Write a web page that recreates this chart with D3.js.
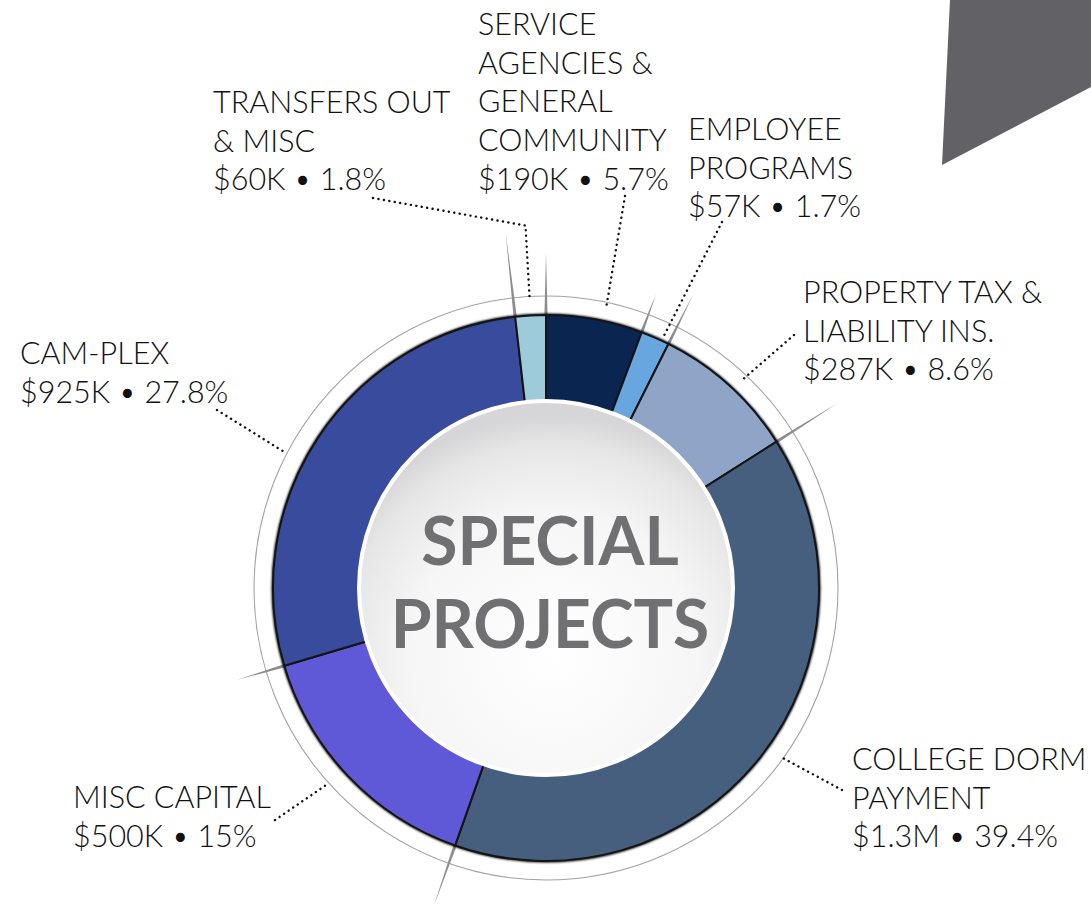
<!DOCTYPE html>
<html>
<head>
<meta charset="utf-8">
<script src="https://cdn.jsdelivr.net/npm/d3@7"></script>
<style>
  html, body { margin: 0; padding: 0; background: #fff; }
  svg { display: block; }
  .lbl { font-family: Lato, "Noto Sans", sans-serif; font-weight: 300; font-size: 30.5px; fill: #111; }
  .title { font-family: Lato, "Noto Sans", sans-serif; font-weight: 700; font-size: 66px; fill: #707072; }
</style>
</head>
<body>
<div id="chart"></div>
<script>
// slices, clockwise from 12 o'clock
var categories = ["SERVICE AGENCIES & GENERAL COMMUNITY", "EMPLOYEE PROGRAMS", "PROPERTY TAX & LIABILITY INS.",
                  "COLLEGE DORM PAYMENT", "MISC CAPITAL", "CAM-PLEX", "TRANSFERS OUT & MISC"];
var nameLines = [["SERVICE", "AGENCIES &", "GENERAL", "COMMUNITY"], ["EMPLOYEE", "PROGRAMS"],
                 ["PROPERTY TAX &", "LIABILITY INS."], ["COLLEGE DORM", "PAYMENT"], ["MISC CAPITAL"],
                 ["CAM-PLEX"], ["TRANSFERS OUT", "& MISC"]];
var amounts = ["$190K", "$57K", "$287K", "$1.3M", "$500K", "$925K", "$60K"];
var shares = [5.7, 1.7, 8.6, 39.4, 15, 27.8, 1.8];
var title = ["SPECIAL", "PROJECTS"];

var colors = ["#0a2550", "#68a6df", "#8ea5c8", "#475f7e", "#5f59d7", "#394b9c", "#9dcbd9"];

// layout
var W = 1091, H = 909;
var cx = 546, cy = 588;
var innerR = 186, outerR = 273, ringR = 292;
var lineH = 38.7;
var labelPos = [[478, 35], [688, 140], [803, 303], [852, 770], [73, 808], [20, 364], [213, 113]];
var leaderFrom = [[625, 196], [722, 222], [794, 335], [842, 790], [275, 820], [217, 410], [373, 198]];
var leaderFrac = [0.59, 0.74, 0.54, 0.48, 0.53, 0.44, 0.5];
var leaderR = [287, 277, 288, 291, 292, 296, 288];
var needleR = [335, 314, 328, 345, 337, 322, 358];
var corner = [[950, 0], [1091, 0], [1091, 87], [942, 165]];

var svg = d3.select("#chart").append("svg")
    .attr("width", W)
    .attr("height", H);

var defs = svg.append("defs");
var grad = defs.append("radialGradient")
    .attr("id", "disc")
    .attr("cx", "52%").attr("cy", "68%").attr("r", "64%");
grad.append("stop").attr("offset", "0%").attr("stop-color", "#ffffff");
grad.append("stop").attr("offset", "60%").attr("stop-color", "#f6f6f6");
grad.append("stop").attr("offset", "88%").attr("stop-color", "#e6e6e6");
grad.append("stop").attr("offset", "100%").attr("stop-color", "#d6d6d8");

var shadow = defs.append("filter").attr("id", "soft").attr("x", "-10%").attr("y", "-10%").attr("width", "120%").attr("height", "120%");
shadow.append("feGaussianBlur").attr("stdDeviation", 1.2);

// grey corner shape
svg.append("path")
    .attr("d", d3.line()(corner) + "Z")
    .attr("fill", "#626166");

var g = svg.append("g").attr("transform", "translate(" + cx + "," + cy + ")");

// thin outer ring
g.append("circle")
    .attr("r", ringR)
    .attr("fill", "none")
    .attr("stroke", "#a2a2a2")
    .attr("stroke-width", 1.1);

var pie = d3.pie().sort(null).value(function(d) { return d; })
    .startAngle(0).endAngle(2 * Math.PI);
var arcs = pie(shares);

var arc = d3.arc().innerRadius(innerR).outerRadius(outerR);

// tapered grey needles at slice boundaries
g.selectAll("path.needle")
    .data(arcs)
    .enter()
    .append("path")
    .attr("class", "needle")
    .attr("fill", "#8d8d8d")
    .attr("d", function(d, i) {
        var a = d.startAngle, w = 1.7 / outerR;
        var b1 = d3.pointRadial(a - w, outerR - 4),
            b2 = d3.pointRadial(a + w, outerR - 4),
            t = d3.pointRadial(a, needleR[i]);
        return "M" + b1 + "L" + t + "L" + b2 + "Z";
    });

// shadowed outline under the ring
g.append("circle")
    .attr("r", outerR)
    .attr("fill", "none")
    .attr("stroke", "#000")
    .attr("stroke-width", 3)
    .attr("filter", "url(#soft)");

g.selectAll("path.slice")
    .data(arcs)
    .enter()
    .append("path")
    .attr("class", "slice")
    .attr("d", arc)
    .attr("fill", function(d, i) { return colors[i]; })
    .attr("stroke", "#141414")
    .attr("stroke-width", 2)
    .attr("stroke-linejoin", "round");

// center disc
g.append("circle")
    .attr("r", innerR + 1)
    .attr("fill", "url(#disc)")
    .attr("stroke", "#ffffff")
    .attr("stroke-width", 4);

g.selectAll("text.title")
    .data(title)
    .enter()
    .append("text")
    .attr("class", "title")
    .attr("x", 4)
    .attr("y", function(d, i) { return -23 + i * 83; })
    .attr("text-anchor", "middle")
    .text(function(d) { return d; });

// dotted leaders
var leader = d3.line();
svg.selectAll("path.leader")
    .data(arcs)
    .enter()
    .append("path")
    .attr("class", "leader")
    .attr("fill", "none")
    .attr("stroke", "#111")
    .attr("stroke-width", 2.4)
    .attr("stroke-linecap", "round")
    .attr("stroke-dasharray", "0.1 5.4")
    .attr("d", function(d, i) {
        var a = d.startAngle + leaderFrac[i] * (d.endAngle - d.startAngle);
        var end = d3.pointRadial(a, leaderR[i]);
        var pts = [leaderFrom[i]];
        if (i === 6) {
            var elbow = d3.pointRadial(a, 363);
            pts.push([elbow[0] + cx, elbow[1] + cy]);
        }
        pts.push([end[0] + cx, end[1] + cy]);
        return leader(pts);
    });

// labels
var labels = svg.selectAll("text.lbl")
    .data(arcs)
    .enter()
    .append("text")
    .attr("class", "lbl")
    .attr("x", function(d, i) { return labelPos[i][0]; })
    .attr("y", function(d, i) { return labelPos[i][1]; });

labels.each(function(d, i) {
    var lines = nameLines[i].concat([amounts[i] + " \u2022 " + shares[i] + "%"]);
    d3.select(this).selectAll("tspan")
        .data(lines)
        .enter()
        .append("tspan")
        .attr("x", labelPos[i][0])
        .attr("y", function(l, j) { return labelPos[i][1] + j * lineH; })
        .text(function(l) { return l; });
});
</script>
</body>
</html>
